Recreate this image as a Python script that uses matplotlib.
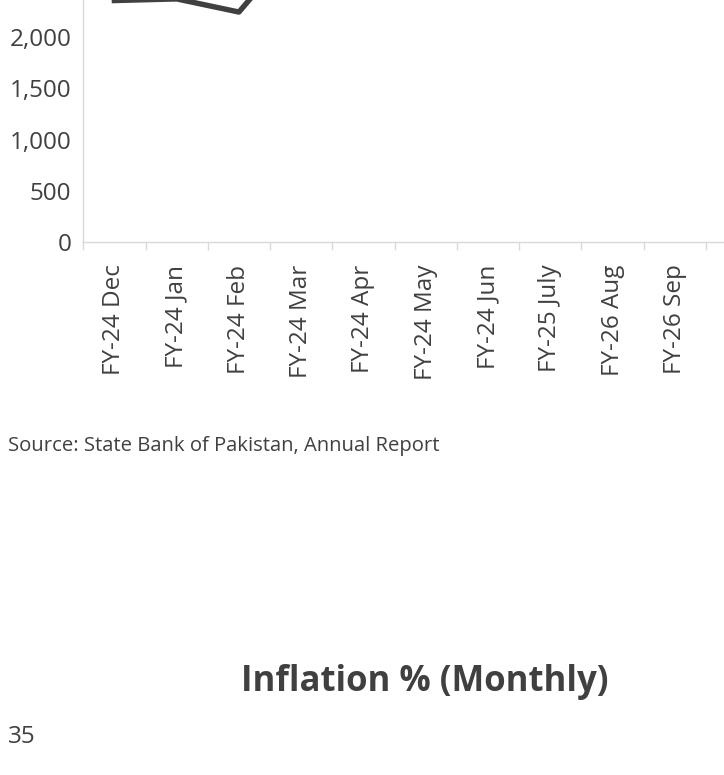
import matplotlib
matplotlib.use("Agg")
import matplotlib.pyplot as plt
from matplotlib.ticker import FuncFormatter, FixedLocator

# Workers' remittances (US$ million), chart is cut off at the top of the page
months = ["FY-24 Dec", "FY-24 Jan", "FY-24 Feb", "FY-24 Mar", "FY-24 Apr",
          "FY-24 May", "FY-24 Jun", "FY-25 July", "FY-26 Aug", "FY-26 Sep"]
remittances = [2352, 2368, 2240, 2950, 2810, 3240, 3160, 2990, 2940, 2860]
y_ticks = [0, 500, 1000, 1500, 2000]

source_text = "Source: State Bank of Pakistan, Annual Report"
next_title = "Inflation % (Monthly)"
next_first_tick = "35"

text_col = "#404040"
grid_col = "#d9d9d9"
plt.rcParams["font.family"] = ["Open Sans", "DejaVu Sans"]

fig = plt.figure(figsize=(7.24, 7.75), dpi=100)

# axes runs past the top edge of the figure, like the cropped page
ax = fig.add_axes([0.1150, 0.6873, 0.8850, 0.4643])
x = [i + 0.5 for i in range(len(months))]
ax.plot(x, remittances, color="#404040", lw=3.9, solid_joinstyle="round",
        solid_capstyle="projecting", clip_on=False)

ax.set_ylim(0, 3500)
ax.set_xlim(0, 10.29)
ax.set_yticks(y_ticks)
ax.yaxis.set_major_formatter(FuncFormatter(lambda v, p: f"{int(v):,}"))
ax.set_xticks(x)
ax.set_xticklabels(months, rotation=90)
ax.xaxis.set_minor_locator(FixedLocator(range(0, len(months) + 1)))

ax.tick_params(axis="x", which="major", length=0, pad=16, labelsize=17.5,
               labelcolor=text_col)
ax.tick_params(axis="x", which="minor", length=6, color=grid_col, width=1)
ax.tick_params(axis="y", length=0, pad=8.5, labelsize=17.5, labelcolor=text_col)

for side in ["top", "right"]:
    ax.spines[side].set_visible(False)
for side in ["left", "bottom"]:
    ax.spines[side].set_color(grid_col)
    ax.spines[side].set_linewidth(1)

fig.text(8 / 724, 1 - 446 / 775, source_text, fontsize=14.6, color=text_col,
         ha="left", va="center")
fig.text(425 / 724, 1 - 682 / 775, next_title, fontsize=25, fontweight="bold",
         color=text_col, ha="center", va="center")
fig.text(8 / 724, 1 - 737 / 775, next_first_tick, fontsize=17.5,
         color=text_col, ha="left", va="center")

fig.savefig("out.png", dpi=100)
